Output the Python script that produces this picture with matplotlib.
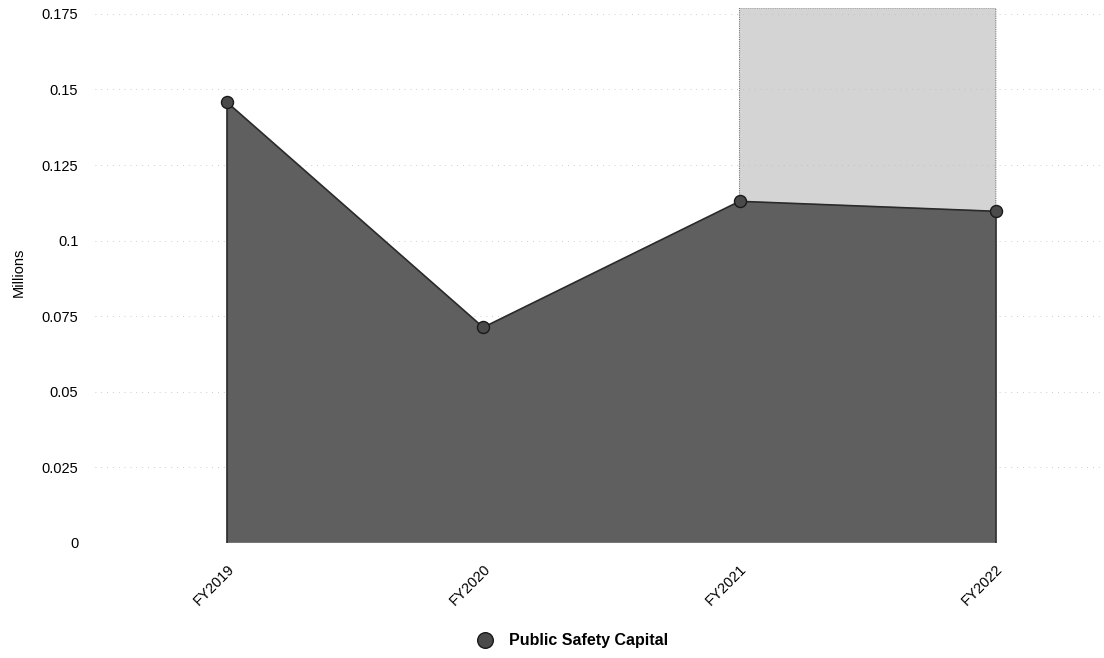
import matplotlib.pyplot as plt

# Datos
years = ["FY2019", "FY2020", "FY2021", "FY2022"]
values = [0.1458, 0.0713, 0.1130, 0.1097]
y_ticks = [0, 0.025, 0.05, 0.075, 0.1, 0.125, 0.15, 0.175]
y_tick_labels = ["0", "0.025", "0.05", "0.075", "0.1", "0.125", "0.15", "0.175"]
series_name = "Public Safety Capital"
y_top = 0.177

plt.rcParams["font.family"] = ["Liberation Sans", "DejaVu Sans"]

fig = plt.figure(figsize=(11.04, 6.58), dpi=100)
ax = fig.add_axes([0.086, 0.175, 0.91, 0.813])

x = list(range(len(years)))

# zona sombreada (proyeccion) entre FY2021 y FY2022
ax.fill_between(x[2:], values[2:], [y_top] * 2, color="#d4d4d4",
                edgecolor="#777777", linewidth=0.8, linestyle=(0, (1, 1)), zorder=1)

# area principal
ax.fill_between(x, values, 0, color="#5f5f5f", edgecolor="none", zorder=2)
ax.plot(x, values, color="#2a2a2a", linewidth=1.2, zorder=3)
ax.vlines([x[0], x[-1]], 0, [values[0], values[-1]], color="#2a2a2a", linewidth=1.2, zorder=3)
ax.scatter(x, values, s=75, color="#4a4a4a", edgecolor="#1a1a1a", linewidth=1, zorder=4,
           label=series_name)

ax.set_xlim(-0.515, 3.405)
ax.set_ylim(0, y_top)
ax.set_yticks(y_ticks)
ax.set_yticklabels(y_tick_labels, fontsize=10.5)
ax.set_xticks(x)
ax.set_xticklabels(years, fontsize=10.5, rotation=45, ha="right", rotation_mode="anchor")
ax.tick_params(axis="y", length=0, pad=12)
ax.tick_params(axis="x", length=0, pad=14)
ax.set_ylabel("Millions", fontsize=10.5)
ax.yaxis.set_label_coords(-0.069, 0.505)

ax.grid(axis="y", color="#bbbbbb", linewidth=0.6, linestyle=(0, (1, 6)), zorder=0)
for s in ax.spines.values():
    s.set_visible(False)

fig.legend(loc="lower center", bbox_to_anchor=(0.515, -0.006), frameon=False,
           prop={"weight": "bold", "size": 11.5}, handletextpad=0.5, markerscale=1.3)

plt.savefig("out.png", dpi=100)
